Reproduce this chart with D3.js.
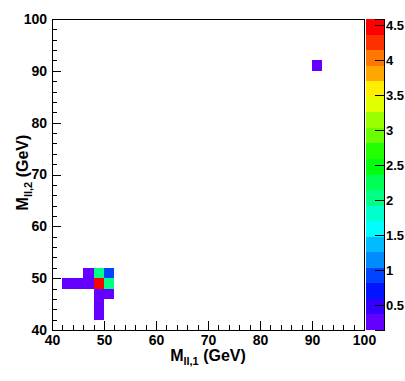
<!DOCTYPE html>
<html>
<head>
<meta charset="utf-8">
<script src="https://cdn.jsdelivr.net/npm/d3@7"></script>
<style>
body { margin: 0; background: #fff; }
text { font-family: "Liberation Sans", Arial, sans-serif; font-weight: bold; }
</style>
</head>
<body>
<div id="chart"></div>
<script>
// filled bins: low edges in GeV (bins are 2 GeV wide) and content
var xLow   = [42, 44, 46, 48, 50,   46, 48, 50,   48, 50,   48,   48,   90];
var yLow   = [48, 48, 48, 48, 48,   50, 50, 50,   46, 46,   44,   42,   90];
var counts = [0.25, 0.25, 0.25, 4.45, 2.0,   0.25, 2.0, 0.95,   0.25, 0.25,   0.25,   0.25,   0.25];
var binWidth = 2;

var axisRange = [40, 100];
var majorTicks = [40, 50, 60, 70, 80, 90, 100];
var minorTicks = d3.range(40, 101, 2);
var zRange = [0.143, 4.586];
var zTicks = [0.5, 1, 1.5, 2, 2.5, 3, 3.5, 4, 4.5];

var W = 405, H = 381;
var margin = {top: 19, left: 52, right: 41, bottom: 51},
    width = W - margin.left - margin.right,
    height = H - margin.top - margin.bottom;

var svg = d3.select("#chart")
  .append("svg")
    .attr("width", W)
    .attr("height", H);

var plot = svg.append("g")
    .attr("transform", "translate(" + margin.left + "," + margin.top + ")");

var x = d3.scaleLinear().domain(axisRange).range([0, width]);
var y = d3.scaleLinear().domain(axisRange).range([height, 0]);

// ROOT "pretty" palette, 20 contours
var palette = d3.range(20).map(function(i) {
  var idx = Math.floor((i + 0.99) * 50 / 20);
  return d3.hsl(280 - (idx + 1) * 5.6, 1, 0.5).formatHex();
});
var z = d3.scaleQuantize().domain(zRange).range(palette);

var cells = counts.map(function(c, i) { return {x: xLow[i], y: yLow[i], v: c}; });

plot.append("g")
  .selectAll("rect")
  .data(cells)
  .enter()
  .append("rect")
    .attr("x", function(d) { return x(d.x); })
    .attr("y", function(d) { return y(d.y + binWidth); })
    .attr("width", function(d) { return x(d.x + binWidth) - x(d.x); })
    .attr("height", function(d) { return y(d.y) - y(d.y + binWidth); })
    .style("fill", function(d) { return z(d.v); })
    .attr("shape-rendering", "crispEdges");

// frame
plot.append("rect")
    .attr("width", width)
    .attr("height", height)
    .style("fill", "none")
    .style("stroke", "#000")
    .attr("shape-rendering", "crispEdges");

function styleAxis(g) {
  g.select(".domain").remove();
  g.selectAll("line").attr("stroke", "#000").attr("shape-rendering", "crispEdges");
  g.selectAll("text").attr("fill", "#000").style("font-size", "14px");
}

// x axis
plot.append("g")
    .attr("transform", "translate(0," + height + ")")
    .call(d3.axisBottom(x).tickValues(minorTicks).tickSize(-5).tickFormat(""))
    .call(styleAxis);
plot.append("g")
    .attr("transform", "translate(0," + height + ")")
    .call(d3.axisBottom(x).tickValues(majorTicks).tickSize(-9).tickPadding(5).tickFormat(d3.format("d")))
    .call(styleAxis);

// y axis
plot.append("g")
    .call(d3.axisLeft(y).tickValues(minorTicks).tickSize(-5).tickFormat(""))
    .call(styleAxis);
plot.append("g")
    .call(d3.axisLeft(y).tickValues(majorTicks).tickSize(-9).tickPadding(5).tickFormat(d3.format("d")))
    .call(styleAxis);

// colour bar
var barX = 366, barW = 18;
var zy = d3.scaleLinear().domain(zRange).range([margin.top + height, margin.top]);
var step = (zRange[1] - zRange[0]) / palette.length;

svg.append("g")
  .selectAll("rect")
  .data(palette)
  .enter()
  .append("rect")
    .attr("x", barX)
    .attr("width", barW)
    .attr("y", function(d, i) { return zy(zRange[0] + (i + 1) * step); })
    .attr("height", function(d, i) { return zy(zRange[0] + i * step) - zy(zRange[0] + (i + 1) * step); })
    .style("fill", function(d) { return d; })
    .attr("shape-rendering", "crispEdges");

var zAxis = svg.append("g")
    .attr("transform", "translate(" + (barX + barW) + ",0)")
    .call(d3.axisRight(zy).tickValues(zTicks).tickSize(-9).tickPadding(2).tickFormat(d3.format("")));
zAxis.select(".domain").attr("stroke", "#000").attr("shape-rendering", "crispEdges");
zAxis.selectAll("line").attr("stroke", "#000").attr("shape-rendering", "crispEdges");
zAxis.selectAll("text").attr("fill", "#000").style("font-size", "13px");

// axis titles
var xt = svg.append("text")
    .attr("text-anchor", "middle")
    .attr("x", margin.left + width / 2)
    .attr("y", 361)
    .style("font-size", "16px");
xt.append("tspan").text("M");
xt.append("tspan").text("ll,1").style("font-size", "11px").attr("dy", 4);
xt.append("tspan").text(" (GeV)").attr("dy", -4);

var yt = svg.append("text")
    .attr("text-anchor", "middle")
    .attr("transform", "translate(28," + (margin.top + height / 2 - 2) + ") rotate(-90)")
    .style("font-size", "16px");
yt.append("tspan").text("M");
yt.append("tspan").text("ll,2").style("font-size", "11px").attr("dy", 4);
yt.append("tspan").text(" (GeV)").attr("dy", -4);
</script>
</body>
</html>
